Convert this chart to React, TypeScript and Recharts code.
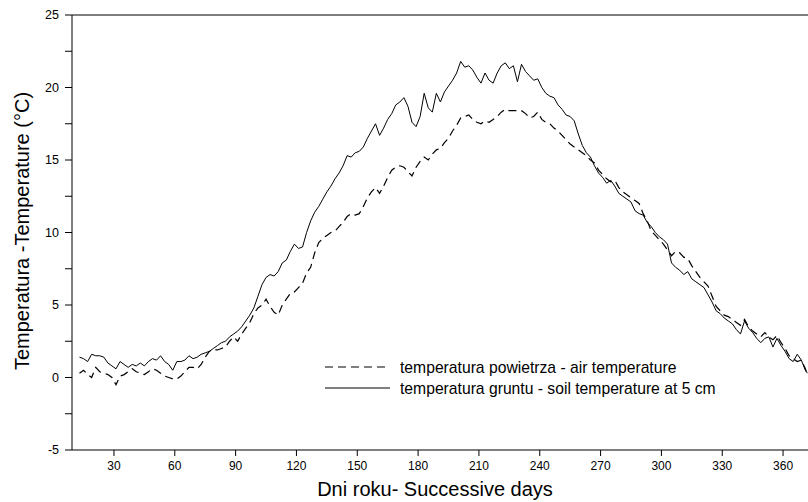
import React from 'react';
import { LineChart, Line, XAxis, YAxis, ReferenceLine, Legend } from 'recharts';

const FONT = 'Arial, "Liberation Sans", sans-serif';

// dni roku - successive days (co 2 dni)
const days: number[] = [13, ...Array.from({ length: 179 }, (_, i) => 15 + 2 * i), 372];

// temperatura gruntu - soil temperature at 5 cm
const soilTemp = [
  1.4,
  1.3, 1.1, 1.6, 1.5, 1.5, 1.4, 1.0, 0.8, 0.6, 1.1,
  0.9, 0.7, 0.9, 0.8, 1.0, 0.8, 1.1, 1.3, 1.2, 1.5,
  1.1, 0.9, 0.5, 1.1, 1.1, 1.2, 1.5, 1.3, 1.4, 1.6,
  1.7, 1.8, 2.0, 2.2, 2.4, 2.5, 2.8, 3.0, 3.2, 3.5,
  3.9, 4.3, 4.8, 5.6, 6.4, 6.9, 7.1, 7.0, 7.3, 7.9,
  8.1, 8.7, 9.2, 8.9, 9.0, 10.0, 10.8, 11.4, 11.8, 12.3,
  12.8, 13.2, 13.7, 14.1, 14.6, 15.3, 15.2, 15.5, 15.6, 15.9,
  16.5, 17.0, 17.5, 16.7, 17.2, 17.8, 18.2, 18.8, 19.0, 19.3,
  18.7, 17.6, 17.3, 18.0, 19.6, 18.6, 18.3, 19.6, 19.0, 19.7,
  20.1, 20.5, 21.0, 21.8, 21.4, 21.5, 21.2, 20.7, 20.3, 21.0,
  20.5, 20.3, 21.0, 21.5, 21.7, 21.3, 21.5, 20.4, 21.6, 21.1,
  20.8, 20.5, 20.6, 20.0, 19.6, 19.4, 19.3, 18.8, 18.5, 18.1,
  18.0, 17.7, 16.8, 16.0, 15.5, 15.2, 14.6, 14.1, 13.8, 13.4,
  13.6, 13.2, 12.7, 12.5, 12.3, 12.1, 11.5, 11.3, 11.2, 10.7,
  10.4, 10.0, 9.7, 9.5, 9.2, 7.9, 7.6, 7.4, 7.1, 7.3,
  6.8, 6.6, 6.4, 6.2, 5.7, 5.2, 4.6, 4.4, 4.1, 3.9,
  3.7, 3.3, 3.0, 3.9, 3.4, 3.1, 2.7, 2.4, 2.7, 2.8,
  2.1, 2.7, 2.2, 1.8, 1.3, 1.1, 1.6, 1.2, 0.5,
  0.3,
];

// temperatura powietrza - air temperature
const airTemp = [
  0.3,
  0.5, 0.2, 0.0, 0.7, 0.4, 0.3, 0.2, 0.0, -0.5, 0.1,
  0.2, 0.4, 0.6, 0.4, 0.3, 0.2, 0.4, 0.6, 0.5, 0.3,
  0.1, 0.0, -0.1, -0.1, 0.1, 0.4, 0.7, 0.7, 0.6, 0.9,
  1.4, 1.8, 1.9, 1.9, 2.0, 2.1, 2.5, 2.8, 2.5, 3.0,
  3.4, 3.8, 4.4, 4.8, 5.0, 5.4, 4.9, 4.5, 4.3, 5.0,
  5.4, 5.8, 5.9, 6.2, 6.5, 7.2, 7.6, 8.6, 9.3, 9.6,
  9.8, 10.0, 10.1, 10.4, 10.7, 11.1, 11.3, 11.2, 11.3, 11.8,
  12.4, 12.8, 13.1, 12.7, 13.2, 13.8, 14.3, 14.5, 14.6, 14.5,
  14.2, 13.9, 14.5, 14.9, 15.2, 15.0, 15.4, 15.7, 15.8, 16.2,
  16.5, 17.0, 17.4, 17.9, 18.0, 18.1, 17.8, 17.6, 17.5, 17.7,
  17.6, 17.8, 18.0, 18.3, 18.5, 18.4, 18.4, 18.4, 18.4, 18.2,
  17.9, 18.0, 18.3, 17.8, 17.6, 17.5, 17.2, 17.0, 16.7, 16.4,
  16.1, 15.9, 15.7, 15.5, 15.3, 15.0, 14.8, 14.3, 14.0, 13.7,
  13.5, 13.6, 13.1, 12.8, 12.6, 12.4, 12.2, 12.0, 11.3, 10.8,
  10.1, 9.8, 9.5, 9.2, 8.8, 8.4, 8.7, 8.6, 8.3, 8.2,
  7.7, 7.3, 6.9, 6.6, 6.3, 5.6, 4.9, 4.6, 4.3, 4.2,
  4.0, 3.8, 3.6, 4.0, 3.5, 3.2, 3.0, 2.8, 3.1, 2.8,
  2.6, 2.9, 2.4, 2.0, 1.5, 1.3, 1.1, 1.2, 0.6,
  0.2,
];

const xTicks = [30, 60, 90, 120, 150, 180, 210, 240, 270, 300, 330, 360];
const yTicks = [-5, -2.5, 0, 2.5, 5, 7.5, 10, 12.5, 15, 17.5, 20, 22.5, 25];

const legendItems = [
  { label: 'temperatura powietrza - air temperature', dash: '8 5' },
  { label: 'temperatura gruntu - soil temperature at 5 cm', dash: undefined },
];

const chartData = days.map((d, i) => ({ day: d, soil: soilTemp[i], air: airTemp[i] }));

function ChartLegend() {
  return (
    <svg width={420} height={44}>
      {legendItems.map((item, i) => (
        <g key={item.label}>
          <line x1={5} x2={70} y1={10 + i * 21} y2={10 + i * 21} stroke="#000" strokeWidth={1.2} strokeDasharray={item.dash} />
          <text x={80} y={15.5 + i * 21} fontSize={15.7} fontFamily={FONT} fill="#000">{item.label}</text>
        </g>
      ))}
    </svg>
  );
}

export default function App() {
  return (
    <div style={{ position: 'absolute', left: 0, top: 0, width: 808, height: 502, background: '#fff' }}>
      <LineChart width={808} height={502} data={chartData} margin={{ top: 15, right: 0, bottom: 0, left: 0 }}>
        <XAxis
          dataKey="day"
          type="number"
          domain={[9.3, 372.3]}
          allowDataOverflow
          ticks={xTicks}
          interval={0}
          height={52}
          tickSize={6}
          tickMargin={5}
          stroke="#000"
          tick={{ fill: '#000', fontSize: 12, fontFamily: FONT }}
          label={{
            content: () => (
              <text x={435} y={496} textAnchor="middle" fontSize={20} fontFamily={FONT} fill="#000">
                Dni roku- Successive days
              </text>
            ),
          }}
        />
        <YAxis
          type="number"
          domain={[-5, 25]}
          ticks={yTicks}
          interval={0}
          width={72}
          tickSize={7}
          tickMargin={6}
          stroke="#000"
          tick={{ fill: '#000', fontSize: 12.5, fontFamily: FONT }}
          tickFormatter={(v: number) => (v % 5 === 0 ? String(v) : '')}
          label={{
            content: () => (
              <text x={29} y={231} transform="rotate(-90, 29, 231)" textAnchor="middle" fontSize={20} fontFamily={FONT} fill="#000">
                Temperatura -Temperature (°C)
              </text>
            ),
          }}
        />
        <ReferenceLine y={25} stroke="#000" strokeWidth={1} />
        <Line dataKey="air" type="linear" stroke="#000" strokeWidth={1.2} strokeDasharray="8 5" dot={false} isAnimationActive={false} />
        <Line dataKey="soil" type="linear" stroke="#000" strokeWidth={1} dot={false} isAnimationActive={false} />
        <Legend
          layout="horizontal"
          verticalAlign="middle"
          align="center"
          content={() => <ChartLegend />}
          wrapperStyle={{ left: 320, top: 357, width: 420, height: 44 }}
        />
      </LineChart>
    </div>
  );
}
